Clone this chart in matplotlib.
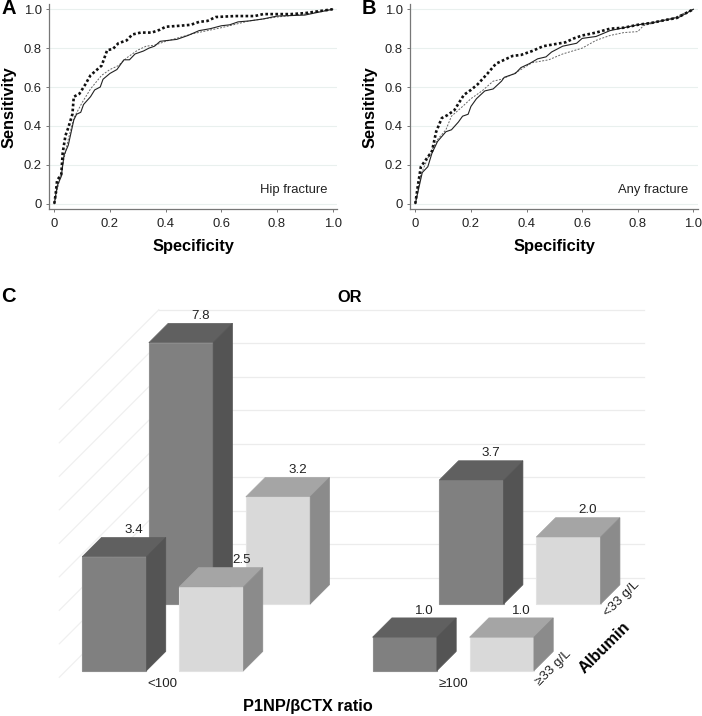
import matplotlib
matplotlib.use('Agg')
import matplotlib.pyplot as plt
from matplotlib.patches import Polygon

plt.rcParams['font.family'] = ['Liberation Sans', 'DejaVu Sans']

# panel A, hip fracture
a_dot_x = [0, .005, .01, .025, .03, .04, .05, .065, .07, .09, .11, .13, .15, .17, .19, .21, .23, .26, .28, .31, .35, .38, .40, .45, .49, .52, .55, .58, .65, .72, .75, .85, .9, .95, 1]
a_dot_y = [0, .05, .12, .15, .26, .35, .39, .46, .55, .565, .61, .66, .685, .71, .79, .795, .825, .84, .87, .88, .88, .895, .91, .915, .92, .935, .94, .96, .965, .965, .975, .975, .98, .99, 1]
a_sol_x = [0, .01, .025, .035, .05, .07, .08, .095, .105, .13, .145, .165, .175, .2, .225, .25, .27, .29, .32, .34, .36, .38, .44, .48, .52, .56, .6, .63, .66, .7, .75, .8, .9, 1]
a_sol_y = [0, .09, .14, .25, .3, .43, .46, .47, .51, .55, .585, .6, .64, .67, .69, .74, .74, .77, .785, .8, .81, .835, .845, .865, .89, .9, .915, .92, .935, .94, .95, .965, .97, 1]
a_das_x = [0, .03, .05, .07, .1, .13, .17, .2, .23, .26, .3, .33, .36, .4, .5, .6, .7, .8, .9, 1]
a_das_y = [0, .2, .33, .44, .52, .59, .66, .69, .71, .75, .79, .81, .815, .835, .875, .905, .94, .96, .975, 1]

# panel B, any fracture
b_dot_x = [0, .01, .02, .04, .06, .075, .095, .115, .14, .175, .2, .225, .26, .29, .32, .35, .38, .42, .46, .5, .54, .57, .6, .65, .7, .75, .8, .85, .9, .94, 1]
b_dot_y = [0, .1, .19, .23, .27, .37, .44, .455, .48, .56, .585, .615, .67, .72, .74, .76, .765, .785, .81, .82, .83, .85, .865, .88, .9, .905, .92, .93, .945, .955, 1]
b_sol_x = [0, .025, .045, .06, .08, .11, .13, .155, .17, .19, .2, .22, .25, .28, .31, .32, .36, .38, .41, .44, .47, .49, .53, .58, .6, .65, .7, .75, .8, .85, .9, .95, 1]
b_sol_y = [0, .16, .19, .26, .32, .37, .38, .42, .45, .46, .5, .54, .58, .59, .63, .65, .67, .7, .72, .745, .755, .78, .81, .825, .85, .86, .89, .905, .92, .93, .945, .96, 1]
b_das_x = [0, .02, .05, .08, .11, .13, .17, .2, .24, .28, .31, .35, .38, .42, .48, .53, .6, .65, .7, .75, .8, .82, .87, .92, 1]
b_das_y = [0, .15, .25, .33, .38, .45, .5, .54, .58, .63, .64, .665, .69, .725, .74, .77, .8, .84, .865, .88, .885, .915, .935, .95, 1]

ticks = [0, .2, .4, .6, .8, 1.0]
tick_labels = ['0', '0.2', '0.4', '0.6', '0.8', '1.0']

# panel C, odds ratios
ratio_labels = ['<100', '≥100']
front_dark = [3.4, 1.0]   # albumin >=33
front_light = [2.5, 1.0]
back_dark = [7.8, 3.7]    # albumin <33
back_light = [3.2, 2.0]
wall_ticks = [0, 1, 2, 3, 4, 5, 6, 7, 8]

W, H = 702, 716
fig = plt.figure(figsize=(W / 100, H / 100), dpi=100)


def roc_axes(left, right, dot, sol, das, note, letter, letter_x):
    ax = fig.add_axes([left / W, 1 - 209.3 / H, (right - left) / W, 205.3 / H])
    ax.set_xlim(-.018, 1.0155)
    ax.set_ylim(-.029, 1.027)
    ax.yaxis.grid(True, color='#e9f0ee', lw=.8)
    ax.set_axisbelow(True)
    ax.plot(das[0], das[1], color='#666666', lw=.7, ls=(0, (2, 1.5)))
    ax.plot(sol[0], sol[1], color='#222222', lw=.8)
    ax.plot(dot[0], dot[1], color='#111111', lw=1.9, ls=(0, (1, .9)))
    ax.set_xticks(ticks)
    ax.set_xticklabels(tick_labels)
    ax.set_yticks(ticks)
    ax.set_yticklabels(tick_labels)
    ax.tick_params(labelsize=9.4, colors='#222222', length=2.5, width=.7, color='#777777')
    ax.tick_params(axis='x', pad=4)
    ax.tick_params(axis='y', pad=3)
    for s in ['top', 'right']:
        ax.spines[s].set_visible(False)
    for s in ['left', 'bottom']:
        ax.spines[s].set_color('#777777')
        ax.spines[s].set_linewidth(.9)
    ax.set_xlabel('Specificity', fontsize=11.8, fontweight='bold', labelpad=6)
    ax.set_ylabel('Sensitivity', fontsize=11.8, fontweight='bold', labelpad=5)
    ax.text(.98, .068, note, fontsize=9.4, ha='right', va='center', color='#222222')
    fig.text(letter_x / W, 1 - 9 / H, letter, fontsize=14.5, fontweight='bold', va='center')


roc_axes(49.3, 337, (a_dot_x, a_dot_y), (a_sol_x, a_sol_y), (a_das_x, a_das_y), 'Hip fracture', 'A', 1)
roc_axes(410.3, 697.7, (b_dot_x, b_dot_y), (b_sol_x, b_sol_y), (b_das_x, b_das_y), 'Any fracture', 'B', 362)

# panel C: oblique projection, 1 unit = one OR step on the wall
unit = 33.5
ax = fig.add_axes([0, 0, 1, 1 - 285 / H])
ax.set_xlim(-59.3 / unit, (W - 59.3) / unit)
ax.set_ylim(-(H - 677.3) / unit, (677.3 - 285) / unit)
ax.axis('off')

wall_depth = 2.97
wall_width = 14.48
bar_w = 1.92
bar_d = .576
group_gap = 8.67
light_gap = 2.896
front_depth = .197
back_depth = 2.188
bar_x0 = .485


def proj(x, depth, z):
    return (x + depth, z + depth)


for v in wall_ticks:
    ax.plot([0, wall_depth], [v, v + wall_depth], color='#f0f0f0', lw=.9, zorder=1)
    ax.plot([wall_depth, wall_depth + wall_width], [v + wall_depth, v + wall_depth], color='#ececec', lw=.9, zorder=1)


def bar3d(x, depth, v, face, top, side, edge, z, label_dx=0):
    d2 = depth + bar_d
    ax.add_patch(Polygon([proj(x, depth, 0), proj(x + bar_w, depth, 0), proj(x + bar_w, depth, v), proj(x, depth, v)],
                         fc=face, ec=edge, lw=.8, zorder=z))
    ax.add_patch(Polygon([proj(x, depth, v), proj(x + bar_w, depth, v), proj(x + bar_w, d2, v), proj(x, d2, v)],
                         fc=top, ec=top, lw=.5, zorder=z))
    ax.add_patch(Polygon([proj(x + bar_w, depth, 0), proj(x + bar_w, d2, 0), proj(x + bar_w, d2, v), proj(x + bar_w, depth, v)],
                         fc=side, ec=side, lw=.5, zorder=z))
    lx, ly = proj(x + bar_w / 2, d2, v)
    ax.text(lx + label_dx, ly + .22, '%.1f' % v, fontsize=9.6, ha='center', va='center', color='#222222', zorder=z + .5)


for i in range(2):
    x = bar_x0 + i * group_gap
    bar3d(x, back_depth, back_dark[i], '#808080', '#606060', '#545454', '#8e8e8e', 2)
    bar3d(x + light_gap, back_depth, back_light[i], '#d9d9d9', '#a5a5a5', '#8b8b8b', '#e2e2e2', 3)
    bar3d(x, front_depth, front_dark[i], '#808080', '#606060', '#545454', '#8e8e8e', 4)
    bar3d(x + light_gap, front_depth, front_light[i], '#d9d9d9', '#a5a5a5', '#8b8b8b', '#e2e2e2', 5,
          label_dx=.34 if i == 0 else 0)
    ax.text(3.09 + i * group_gap, -.19, ratio_labels[i], fontsize=9.6, ha='center', va='center', color='#222222')

ax.text(7.42, -.88, 'P1NP/βCTX ratio', fontsize=11.8, fontweight='bold', ha='center', va='center')
ax.text(8.68, 11.33, 'OR', fontsize=11.8, fontweight='bold', ha='center', va='center')
ax.text(16.79, 2.33, '<33 g/L', fontsize=9.6, rotation=45, ha='center', va='center', color='#222222')
ax.text(14.75, .27, '≥33 g/L', fontsize=9.6, rotation=45, ha='center', va='center', color='#222222')
ax.text(16.29, .88, 'Albumin', fontsize=11.8, fontweight='bold', rotation=45, ha='center', va='center')
fig.text(1 / W, 1 - 297 / H, 'C', fontsize=14.5, fontweight='bold', va='center')

fig.savefig('out.png', dpi=100)
